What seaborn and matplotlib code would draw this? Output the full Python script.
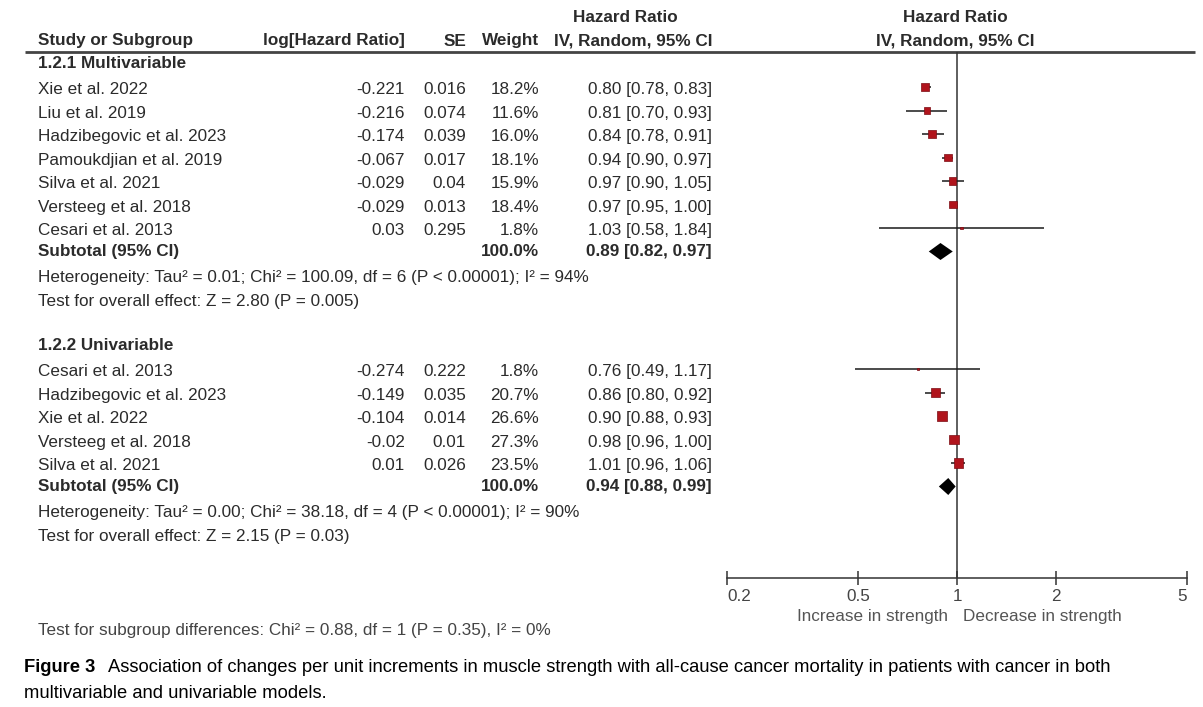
import pandas as pd
import matplotlib.pyplot as plt
import seaborn as sns

# ---- datos: 1.2.1 multivariable ----
multi_study = ["Xie et al. 2022", "Liu et al. 2019", "Hadzibegovic et al. 2023",
               "Pamoukdjian et al. 2019", "Silva et al. 2021", "Versteeg et al. 2018",
               "Cesari et al. 2013"]
multi_loghr = [-0.221, -0.216, -0.174, -0.067, -0.029, -0.029, 0.03]
multi_se = [0.016, 0.074, 0.039, 0.017, 0.04, 0.013, 0.295]
multi_weight = [18.2, 11.6, 16.0, 18.1, 15.9, 18.4, 1.8]
multi_hr = [0.80, 0.81, 0.84, 0.94, 0.97, 0.97, 1.03]
multi_lo = [0.78, 0.70, 0.78, 0.90, 0.90, 0.95, 0.58]
multi_hi = [0.83, 0.93, 0.91, 0.97, 1.05, 1.00, 1.84]
multi_total = [0.89, 0.82, 0.97]
multi_total_weight = 100.0

# ---- datos: 1.2.2 univariable ----
uni_study = ["Cesari et al. 2013", "Hadzibegovic et al. 2023", "Xie et al. 2022",
             "Versteeg et al. 2018", "Silva et al. 2021"]
uni_loghr = [-0.274, -0.149, -0.104, -0.02, 0.01]
uni_se = [0.222, 0.035, 0.014, 0.01, 0.026]
uni_weight = [1.8, 20.7, 26.6, 27.3, 23.5]
uni_hr = [0.76, 0.86, 0.90, 0.98, 1.01]
uni_lo = [0.49, 0.80, 0.88, 0.96, 0.96]
uni_hi = [1.17, 0.92, 0.93, 1.00, 1.06]
uni_total = [0.94, 0.88, 0.99]
uni_total_weight = 100.0

multi_het = "Heterogeneity: Tau² = 0.01; Chi² = 100.09, df = 6 (P < 0.00001); I² = 94%"
multi_test = "Test for overall effect: Z = 2.80 (P = 0.005)"
uni_het = "Heterogeneity: Tau² = 0.00; Chi² = 38.18, df = 4 (P < 0.00001); I² = 90%"
uni_test = "Test for overall effect: Z = 2.15 (P = 0.03)"
diff_test = "Test for subgroup differences: Chi² = 0.88, df = 1 (P = 0.35), I² = 0%"

xticks = [0.2, 0.5, 1, 2, 5]
xtick_labels = ["0.2", "0.5", "1", "2", "5"]

sns.set_theme(style="white")
plt.rcParams['font.family'] = ['Liberation Sans', 'DejaVu Sans']

W, H = 1203, 707
fig = plt.figure(figsize=(W / 100, H / 100), dpi=100)

# eje de texto en pixeles
tx = fig.add_axes([0, 0, 1, 1])
tx.set_xlim(0, W)
tx.set_ylim(H, 0)
tx.axis('off')

# eje del forest plot (escala log)
fx = fig.add_axes([727.4 / W, 0, 459.4 / W, 1])
fx.set_facecolor('none')
fx.set_xscale('log')
fx.set_xlim(0.2, 5)
fx.set_ylim(H, 0)

# rejilla de filas
step = 23.5
y0 = 63.5
def row(k):
    return y0 + step * k

txt = '#2b2b2b'
fs = 12.3
col_log, col_se, col_w, col_ci, col_name = 405, 466, 539, 712, 38

# cabecera
tx.text(625, 17, "Hazard Ratio", ha='center', va='center', fontsize=fs, fontweight='bold', color=txt)
tx.text(955, 17, "Hazard Ratio", ha='center', va='center', fontsize=fs, fontweight='bold', color=txt)
tx.text(col_name, 41, "Study or Subgroup", ha='left', va='center', fontsize=fs, fontweight='bold', color=txt)
tx.text(col_log, 41, "log[Hazard Ratio]", ha='right', va='center', fontsize=fs, fontweight='bold', color=txt)
tx.text(col_se, 41, "SE", ha='right', va='center', fontsize=fs, fontweight='bold', color=txt)
tx.text(col_w, 41, "Weight", ha='right', va='center', fontsize=fs, fontweight='bold', color=txt)
tx.text(col_ci, 41, "IV, Random, 95% CI", ha='right', va='center', fontsize=fs, fontweight='bold', color=txt)
tx.text(955, 41, "IV, Random, 95% CI", ha='center', va='center', fontsize=fs, fontweight='bold', color=txt)
tx.hlines(52, 25, 1195, color='#444444', lw=2)

rows = []
groups = [
    ("1.2.1 Multivariable", 0, multi_study, multi_loghr, multi_se, multi_weight,
     multi_hr, multi_lo, multi_hi, multi_total, multi_total_weight, multi_het, multi_test),
    ("1.2.2 Univariable", 12, uni_study, uni_loghr, uni_se, uni_weight,
     uni_hr, uni_lo, uni_hi, uni_total, uni_total_weight, uni_het, uni_test),
]
for title, k0, study, loghr, se, weight, hr, lo, hi, total, tw, het, test in groups:
    tx.text(col_name, row(k0), title, ha='left', va='center', fontsize=fs, fontweight='bold', color=txt)
    for i in range(len(study)):
        y = row(k0 + 1 + i)
        yt = y + 2.7
        tx.text(col_name, yt, study[i], ha='left', va='center', fontsize=fs, color=txt)
        tx.text(col_log, yt, str(loghr[i]), ha='right', va='center', fontsize=fs, color=txt)
        tx.text(col_se, yt, str(se[i]), ha='right', va='center', fontsize=fs, color=txt)
        tx.text(col_w, yt, f"{weight[i]:.1f}%", ha='right', va='center', fontsize=fs, color=txt)
        tx.text(col_ci, yt, f"{hr[i]:.2f} [{lo[i]:.2f}, {hi[i]:.2f}]", ha='right', va='center',
                fontsize=fs, color=txt)
        rows.append({'y': y, 'hr': hr[i], 'lo': lo[i], 'hi': hi[i], 'weight': weight[i]})
    ys = row(k0 + 1 + len(study))
    tx.text(col_name, ys, "Subtotal (95% CI)", ha='left', va='center', fontsize=fs, fontweight='bold', color=txt)
    tx.text(col_w, ys, f"{tw:.1f}%", ha='right', va='center', fontsize=fs, fontweight='bold', color=txt)
    tx.text(col_ci, ys, f"{total[0]:.2f} [{total[1]:.2f}, {total[2]:.2f}]", ha='right', va='center',
            fontsize=fs, fontweight='bold', color=txt)
    tx.text(col_name, row(k0 + 2 + len(study)) + 2.5, het, ha='left', va='center', fontsize=fs, color=txt)
    tx.text(col_name, row(k0 + 3 + len(study)) + 3, test, ha='left', va='center', fontsize=fs, color=txt)
    # diamante del subtotal
    fx.fill([total[1], total[0], total[2], total[0]], [ys, ys - 8.5, ys, ys + 8.5],
            color='black', lw=0)

df = pd.DataFrame(rows)

# intervalos y cuadrados
fx.hlines(df['y'], df['lo'], df['hi'], color='#1a1a1a', lw=1.1, zorder=2)
wmin, wmax = df['weight'].min(), df['weight'].max()
k = 1.8
sns.scatterplot(data=df, x='hr', y='y', size='weight', sizes=(k * wmin, k * wmax),
                size_norm=(wmin, wmax), marker='s', color='#b0141c', edgecolor='#7a0b12',
                linewidth=0.5, legend=False, ax=fx, zorder=3)

# linea de no efecto
axis_y = 578
fx.vlines(1, 52, axis_y, color='#333333', lw=1.1, zorder=1)

# eje x
for s in ['left', 'right', 'top']:
    fx.spines[s].set_visible(False)
fx.spines['bottom'].set_position(('data', axis_y))
fx.spines['bottom'].set_color('#333333')
fx.spines['bottom'].set_linewidth(1.1)
fx.set_yticks([])
fx.set_xticks(xticks)
fx.set_xticklabels(xtick_labels)
fx.minorticks_off()
fx.tick_params(axis='x', direction='inout', length=10, width=1.1, color='#333333',
               labelsize=fs, labelcolor='#444444', pad=3, bottom=True)
labs = fx.get_xticklabels()
labs[0].set_ha('left')
labs[-1].set_ha('right')
fx.set_xlabel('')
fx.set_ylabel('')

tx.text(948, 616, "Increase in strength", ha='right', va='center', fontsize=fs, color='#555555')
tx.text(963, 616, "Decrease in strength", ha='left', va='center', fontsize=fs, color='#555555')

tx.text(col_name, 630, diff_test, ha='left', va='center', fontsize=fs, color='#444444')

# leyenda de la figura
cap_fs = 13.2
tx.text(24, 668, "Figure 3", ha='left', va='center', fontsize=cap_fs, fontweight='bold', color='black')
tx.text(108, 668, "Association of changes per unit increments in muscle strength with all-cause "
        "cancer mortality in patients with cancer in both", ha='left', va='center',
        fontsize=cap_fs, color='black')
tx.text(24, 693, "multivariable and univariable models.", ha='left', va='center',
        fontsize=cap_fs, color='black')

fig.savefig("out.png", dpi=100)
